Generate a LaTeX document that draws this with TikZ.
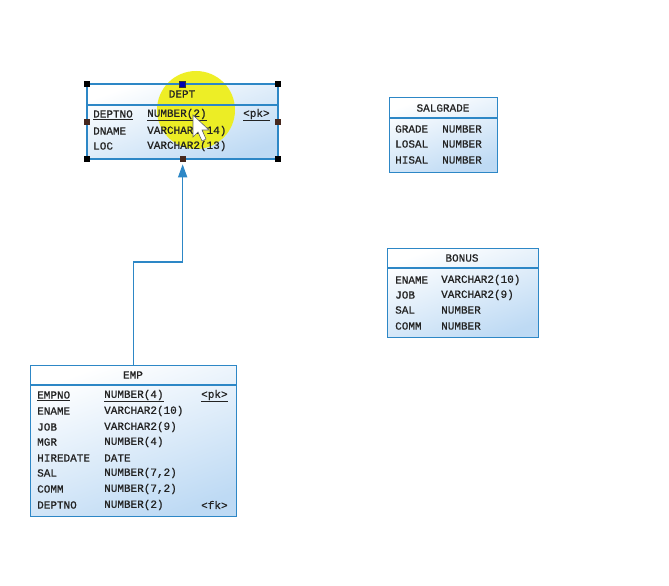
\documentclass[tikz,border=0pt]{standalone}
\usepackage{fontspec}
\newfontfamily\tabfont[FakeBold=0.8]{Liberation Mono}
\usetikzlibrary{arrows.meta}
\definecolor{tabline}{RGB}{45,135,198}
\definecolor{tabfill}{RGB}{190,218,244}
\definecolor{hlyellow}{RGB}{238,238,20}
\definecolor{txtcol}{RGB}{35,35,35}
\definecolor{handlebrown}{RGB}{70,40,30}
\tikzset{
  tablebox/.style={draw=tabline, line width=1.3pt, top color=white, bottom color=tabfill, shading angle=20, rectangle, inner sep=0pt, anchor=north west},
  sepline/.style={draw=tabline, line width=1.1pt},
  cell/.style={anchor=west, inner sep=0pt, text=txtcol, font=\tabfont\fontsize{11}{13}\selectfont},
  ttl/.style={anchor=center, inner sep=0pt, text=txtcol, font=\tabfont\fontsize{11}{13}\selectfont},
  conn/.style={draw=tabline, line width=1.5pt},
  handle/.style={rectangle, fill=black, minimum size=6pt, inner sep=0pt},
  handlemid/.style={rectangle, fill=handlebrown, minimum size=6pt, inner sep=0pt},
}
\begin{document}
\begin{tikzpicture}[x=1pt,y=-1pt]
\useasboundingbox (0,0) rectangle (669,586);
\fill[white] (0,0) rectangle (669,586);

% DEPT
\node[tablebox, minimum width=190pt, minimum height=74pt] (dept) at (87,84) {};
\fill[hlyellow, opacity=0.92] (196,110) circle (39);
\draw[sepline] ([yshift=-21pt]dept.north west) -- ([yshift=-21pt]dept.north east);
\draw[tabline, line width=1.3pt] (dept.north west) rectangle (dept.south east);
\node[ttl] (deptt) at (182,94) {DEPT};
\node[cell] (d1a) at (93,115) {\underline{DEPTNO}};
\node[cell] (d1b) at (147,115) {\underline{NUMBER(2)}};
\node[cell] (d1c) at (243,115) {\underline{<pk>}};
\node[cell] (d2a) at (93,131) {DNAME};
\node[cell] (d2b) at (147,131) {VARCHAR2(14)};
\node[cell] (d3a) at (93,146) {LOC};
\node[cell] (d3b) at (147,146) {VARCHAR2(13)};

% SALGRADE
\node[tablebox, minimum width=108pt, minimum height=75pt] (sal) at (389,97) {};
\draw[sepline] ([yshift=-21pt]sal.north west) -- ([yshift=-21pt]sal.north east);
\node[ttl] (salt) at (443,108) {SALGRADE};
\node[cell] (s1a) at (395,129) {GRADE};
\node[cell] (s1b) at (442,129) {NUMBER};
\node[cell] (s2a) at (395,144) {LOSAL};
\node[cell] (s2b) at (442,144) {NUMBER};
\node[cell] (s3a) at (395,160) {HISAL};
\node[cell] (s3b) at (442,160) {NUMBER};

% BONUS
\node[tablebox, minimum width=151pt, minimum height=89pt] (bonus) at (387,248) {};
\draw[sepline] ([yshift=-20pt]bonus.north west) -- ([yshift=-20pt]bonus.north east);
\node[ttl] (bonust) at (462,258) {BONUS};
\node[cell] (b1a) at (395,280) {ENAME};
\node[cell] (b1b) at (441,280) {VARCHAR2(10)};
\node[cell] (b2a) at (395,295) {JOB};
\node[cell] (b2b) at (441,295) {VARCHAR2(9)};
\node[cell] (b3a) at (395,310) {SAL};
\node[cell] (b3b) at (441,310) {NUMBER};
\node[cell] (b4a) at (395,326) {COMM};
\node[cell] (b4b) at (441,326) {NUMBER};

% EMP
\node[tablebox, minimum width=206pt, minimum height=151pt] (emp) at (30,365) {};
\draw[sepline] ([yshift=-20pt]emp.north west) -- ([yshift=-20pt]emp.north east);
\node[ttl] (empt) at (133,375) {EMP};
\node[cell] (e1a) at (37,396) {\underline{EMPNO}};
\node[cell] (e1b) at (104,396) {\underline{NUMBER(4)}};
\node[cell] (e1c) at (201,396) {\underline{<pk>}};
\node[cell] (e2a) at (37,411) {ENAME};
\node[cell] (e2b) at (104,411) {VARCHAR2(10)};
\node[cell] (e3a) at (37,427) {JOB};
\node[cell] (e3b) at (104,427) {VARCHAR2(9)};
\node[cell] (e4a) at (37,442) {MGR};
\node[cell] (e4b) at (104,442) {NUMBER(4)};
\node[cell] (e5a) at (37,458) {HIREDATE};
\node[cell] (e5b) at (104,458) {DATE};
\node[cell] (e6a) at (37,473) {SAL};
\node[cell] (e6b) at (104,473) {NUMBER(7,2)};
\node[cell] (e7a) at (37,489) {COMM};
\node[cell] (e7b) at (104,489) {NUMBER(7,2)};
\node[cell] (e8a) at (37,505) {DEPTNO};
\node[cell] (e8b) at (104,505) {NUMBER(2)};
\node[cell] (e8c) at (201,505) {<fk>};

% connector EMP -> DEPT
\draw[conn, -{Triangle[length=13pt,width=9pt]}, shorten >=5pt] (emp.north) -- ++(0,-103) -| (dept.south);

% selection handles
\node[handle] (hnw) at (dept.north west) {};
\node[handle] (hne) at (dept.north east) {};
\node[handle] (hsw) at (dept.south west) {};
\node[handle] (hse) at (dept.south east) {};
\node[handlemid] (hw) at (dept.west) {};
\node[handlemid] (he) at (dept.east) {};
\node[handlemid] (hs) at (dept.south) {};
\node[rectangle, fill=blue!70!black, draw=black!80, line width=0.6pt, minimum size=6pt, inner sep=0pt] (hn) at (dept.north) {};

% mouse cursor
\filldraw[fill=white, draw=black!60, line width=0.6pt] (193,115) -- (193,137) -- (198,132) -- (202,141) -- (206,139) -- (202,130) -- (209,130) -- cycle;
\end{tikzpicture}
\end{document}
